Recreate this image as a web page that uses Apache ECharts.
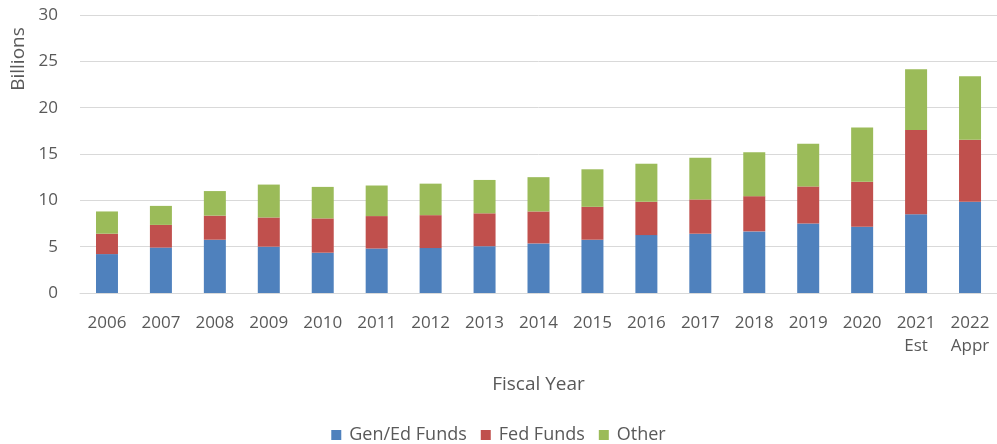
<!DOCTYPE html>
<html lang="en">
<head>
    <meta charset="UTF-8">
    <title>Funding by Fiscal Year</title>
    <script src="https://cdn.jsdelivr.net/npm/echarts@6/dist/echarts.min.js"></script>
    <style>
        html, body { margin: 0; padding: 0; background: #fff; }
        #main { width: 997px; height: 444px; }
    </style>
</head>
<body>
    <div id="main"></div>
    <script type="text/javascript">
        // data (segment heights, billions)
        var years = ['2006', '2007', '2008', '2009', '2010', '2011', '2012', '2013', '2014',
            '2015', '2016', '2017', '2018', '2019', '2020', '2021\nEst', '2022\nAppr'];
        var genEd = [4.2, 4.9, 5.75, 5.0, 4.35, 4.8, 4.85, 5.05, 5.35, 5.75, 6.25, 6.4, 6.65, 7.5, 7.15, 8.5, 9.85];
        var fed = [2.2, 2.45, 2.6, 3.15, 3.7, 3.5, 3.55, 3.55, 3.45, 3.55, 3.6, 3.7, 3.8, 4.0, 4.85, 9.1, 6.7];
        var other = [2.4, 2.05, 2.65, 3.55, 3.4, 3.3, 3.4, 3.6, 3.7, 4.05, 4.1, 4.5, 4.75, 4.6, 5.85, 6.55, 6.85];
        var yTicks = [0, 5, 10, 15, 20, 25, 30];

        var myChart = echarts.init(document.getElementById('main'));
        var colors = ['#4f81bd', '#c0504d', '#9bbb59'];
        var font = '"Open Sans", "Noto Sans", sans-serif';
        var textColor = '#595959';

        var option = {
            color: colors,
            animation: false,
            textStyle: { fontFamily: font },
            grid: {
                left: 80,
                top: 15,
                width: 920,
                bottom: 151
            },
            legend: {
                data: ['Gen/Ed Funds', 'Fed Funds', 'Other'],
                bottom: 0,
                padding: 0,
                left: 'center',
                itemWidth: 10,
                itemHeight: 10,
                itemGap: 14,
                icon: 'rect',
                textStyle: { color: textColor, fontSize: 18, fontFamily: font, padding: [0, 0, 0, 3] }
            },
            graphic: [{
                type: 'text',
                rotation: Math.PI / 2,
                style: {
                    text: 'Billions',
                    fill: textColor,
                    font: '19px ' + font,
                    textAlign: 'center',
                    textVerticalAlign: 'middle'
                },
                x: 19,
                y: 59
            }],
            xAxis: {
                type: 'category',
                data: years,
                name: 'Fiscal Year',
                nameLocation: 'middle',
                nameGap: 82,
                nameTextStyle: { color: textColor, fontSize: 19, fontFamily: font },
                axisLine: { lineStyle: { color: '#d9d9d9' } },
                axisTick: { show: false },
                axisLabel: {
                    color: textColor,
                    fontSize: 17,
                    lineHeight: 23,
                    margin: 19,
                    interval: 0,
                    fontFamily: font
                }
            },
            yAxis: {
                type: 'value',
                min: yTicks[0],
                max: yTicks[yTicks.length - 1],
                interval: 5,
                axisLine: { show: false },
                axisTick: { show: false },
                splitLine: { lineStyle: { color: '#d9d9d9', width: 1 } },
                axisLabel: {
                    color: textColor,
                    fontSize: 17,
                    margin: 22,
                    fontFamily: font
                }
            },
            series: [{
                    name: 'Gen/Ed Funds',
                    type: 'bar',
                    stack: 'total',
                    barWidth: 22,
                    data: genEd
                },
                {
                    name: 'Fed Funds',
                    type: 'bar',
                    stack: 'total',
                    barWidth: 22,
                    data: fed
                },
                {
                    name: 'Other',
                    type: 'bar',
                    stack: 'total',
                    barWidth: 22,
                    data: other
                }
            ]
        };
        myChart.setOption(option);
    </script>
</body>
</html>
